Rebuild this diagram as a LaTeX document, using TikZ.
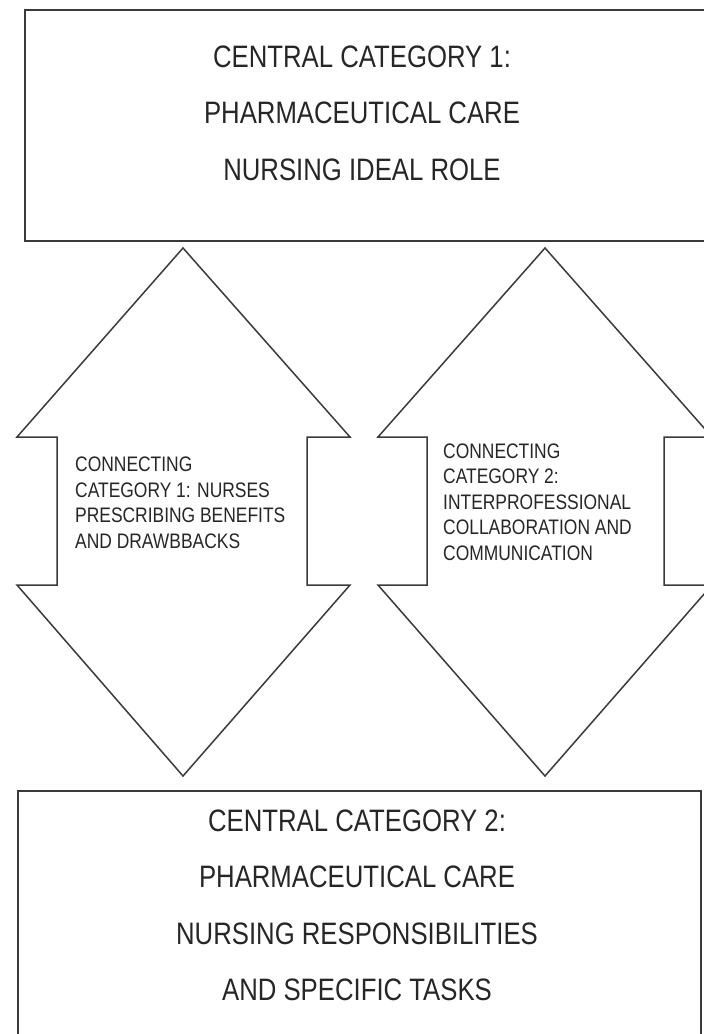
\documentclass[tikz,border=0pt]{standalone}
\usepackage{fontspec}
\setmainfont{Liberation Sans}
\newfontfamily\narrowfont[FakeStretch=0.83]{Liberation Sans}
\usetikzlibrary{calc}
\definecolor{linegray}{HTML}{3A3A3A}
\tikzset{ box_style/.style = { rectangle % central category
        , draw = linegray
        , line width = 2pt
        , inner sep = 0pt
        }
        , big_text/.style = { align = center % box text
        , inner sep = 0pt
        , text = black!85
        , font = \narrowfont\fontsize{31}{56.5}\selectfont
        }
        , small_text/.style = { align = left % arrow text
        , anchor = west
        , inner sep = 0pt
        , text = black!85
        , font = \narrowfont\fontsize{21}{25.5}\selectfont
        }
        , arrow_style/.style = { draw = linegray % double arrow
        , line width = 1.5pt
        , line join = miter
        }
        }

\begin{document}
\begin{tikzpicture}[x=1pt, y=-1pt]
        \useasboundingbox (0,0) rectangle (704,1034);
        \clip (0,0) rectangle (704,1034);

        \node [box_style, minimum width=716pt, minimum height=231pt, anchor=north west](cc1) at (24,9) {};
        \node [box_style, minimum width=683pt, minimum height=280pt, anchor=north west](cc2) at (17,790) {};

        \node [big_text](t1) at (362,113) {CENTRAL CATEGORY 1:\\PHARMACEUTICAL CARE\\NURSING IDEAL ROLE};
        \node [big_text](t2) at (357,905.5) {CENTRAL CATEGORY 2:\\PHARMACEUTICAL CARE\\NURSING RESPONSIBILITIES\\AND SPECIFIC TASKS};

        % left double arrow
        \coordinate (a1) at (183,248);
        \coordinate (b1) at (183,776);
        \draw [arrow_style] (a1) -- (350,437) -- (307,437) -- (307,585) -- (350,585) -- (b1)
            -- (17,585) -- (57,585) -- (57,437) -- (17,437) -- cycle;
        \node [small_text](k1) at (75,503) {CONNECTING\\CATEGORY 1: NURSES\\PRESCRIBING BENEFITS\\AND DRAWBBACKS};

        % right double arrow
        \coordinate (a2) at (545,248);
        \coordinate (b2) at (545,776);
        \draw [arrow_style] (a2) -- (712,437) -- (664,437) -- (664,585) -- (712,585) -- (b2)
            -- (378,585) -- (427,585) -- (427,437) -- (378,437) -- cycle;
        \node [small_text](k2) at (443,502) {CONNECTING\\CATEGORY 2:\\INTERPROFESSIONAL\\COLLABORATION AND\\COMMUNICATION};

        \end{tikzpicture}
\end{document}
